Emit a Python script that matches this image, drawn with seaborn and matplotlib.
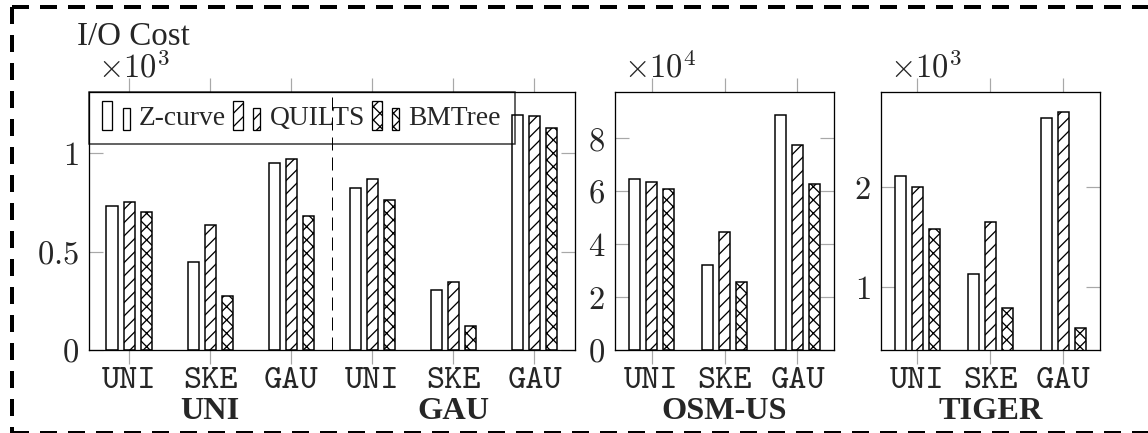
import numpy as np
import pandas as pd
import matplotlib
matplotlib.use("Agg")
import matplotlib.pyplot as plt
import seaborn as sns
import matplotlib.transforms as mtransforms
from matplotlib.legend_handler import HandlerBase
from matplotlib.patches import Rectangle, Patch
from matplotlib.lines import Line2D
from matplotlib.ticker import FuncFormatter

# ---------------- data ----------------
methods = ["Z-curve", "QUILTS", "BMTree"]
queries = ["UNI", "SKE", "GAU"]

# synthetic datasets (x10^3)
uni_zcurve = [0.734, 0.448, 0.950]
uni_quilts = [0.750, 0.636, 0.972]
uni_bmtree = [0.699, 0.273, 0.683]
gau_zcurve = [0.823, 0.304, 1.194]
gau_quilts = [0.870, 0.346, 1.191]
gau_bmtree = [0.760, 0.124, 1.128]
# OSM-US (x10^4)
osm_zcurve = [6.47, 3.21, 8.88]
osm_quilts = [6.35, 4.45, 7.76]
osm_bmtree = [6.08, 2.56, 6.26]
# TIGER (x10^3)
tiger_zcurve = [2.11, 1.13, 2.68]
tiger_quilts = [2.00, 1.65, 2.74]
tiger_bmtree = [1.58, 0.80, 0.60]

group_labels = ["UNI", "GAU", "OSM-US", "TIGER"]
exponents = [3, 4, 3]

# ---------------- style ----------------
DPI = 120
def pt(px):
    return px * 72.0 / DPI

sns.set_theme(style="white")
plt.rcParams.update({
    "font.family": ["Liberation Serif", "DejaVu Serif"],
    "mathtext.fontset": "cm",
    "hatch.linewidth": pt(1.3),
    "lines.scale_dashes": False,
    "axes.grid": False,
})

fig = plt.figure(figsize=(1148 / DPI, 433 / DPI), dpi=DPI)
W, H = 1148.0, 433.0
ax_bottom_px, ax_top_px = 350.0, 91.7

def add_axes(left_px, right_px):
    return fig.add_axes([left_px / W, (H - ax_bottom_px) / H,
                         (right_px - left_px) / W, (ax_bottom_px - ax_top_px) / H])

ax1 = add_axes(88.5, 575.0)
ax2 = add_axes(615.0, 834.0)
ax3 = add_axes(880.7, 1099.7)

def frame(keys, z, q, b):
    return pd.DataFrame({
        "cat": keys * 3,
        "method": np.repeat(methods, len(keys)),
        "value": list(z) + list(q) + list(b),
    })

keys1 = [f"UNI/{c}" for c in queries] + [f"GAU/{c}" for c in queries]
df1 = frame(keys1, uni_zcurve + gau_zcurve, uni_quilts + gau_quilts, uni_bmtree + gau_bmtree)
df2 = frame(queries, osm_zcurve, osm_quilts, osm_bmtree)
df3 = frame(queries, tiger_zcurve, tiger_quilts, tiger_bmtree)

hatches = ["", "///", "xxx"]
tick_gray = "#a8a8a8"

panels = [
    (ax1, df1, keys1, queries * 2, 81.0, (0, 1.313), [0, 0.5, 1]),
    (ax2, df2, queries, queries, 73.0, (0, 9.76), [0, 2, 4, 6, 8]),
    (ax3, df3, queries, queries, 73.0, (0.378, 2.945), [1, 2]),
]

for ax, df, order, labels, px_per_unit, ylim, yticks in panels:
    sns.barplot(data=df, x="cat", y="value", hue="method", order=order,
                hue_order=methods, palette=["white"] * 3, edgecolor="black",
                linewidth=pt(1.5), width=51.0 / px_per_unit, gap=0.35,
                errorbar=None, legend=False, ax=ax, zorder=2)
    for cont, h in zip(ax.containers, hatches):
        for bar in cont:
            bar.set_hatch(h)
            bar.set_facecolor("white")
            bar.set_edgecolor("black")
    ax.set_xlim(-0.5, len(order) - 0.5)
    ax.set_ylim(*ylim)
    ax.set_xlabel("")
    ax.set_ylabel("")
    ax.set_xticks(range(len(order)))
    ax.set_xticklabels(labels, fontfamily="cmtt10", fontsize=20.8)
    ax.set_yticks(yticks)
    ax.yaxis.set_major_formatter(FuncFormatter(lambda v, p: f"${v:g}$"))
    ax.tick_params(axis="x", direction="out", length=pt(14), width=pt(1.2),
                   color=tick_gray, top=True, bottom=True, labeltop=False,
                   labelbottom=True, pad=pt(3))
    ax.tick_params(axis="y", direction="in", length=pt(14), width=pt(1.2),
                   color=tick_gray, left=True, right=True, labelright=False,
                   labelsize=19.6, pad=pt(10))
    for s in ax.spines.values():
        s.set_visible(True)
        s.set_color("black")
        s.set_linewidth(pt(1.3))
        s.set_zorder(3)
    ax.set_facecolor("white")

# dashed separator between the two synthetic datasets
ax1.axvline(2.5, color="black", lw=pt(1.0), ls=(0, (pt(13), pt(7))), zorder=6)

# ---------------- legend ----------------
class TwoBars(HandlerBase):
    def create_artists(self, legend, orig_handle, xdescent, ydescent,
                       width, height, fontsize, trans):
        h = orig_handle.get_hatch()
        x0, y0 = -xdescent, -ydescent - 0.25 * height
        r1 = Rectangle((x0, y0), 0.36 * width, 1.5 * height, facecolor="white",
                       edgecolor="black", hatch=h, lw=pt(1.3), transform=trans)
        r2 = Rectangle((x0 + 0.74 * width, y0), 0.26 * width, 1.1 * height,
                       facecolor="white", edgecolor="black", hatch=h,
                       lw=pt(1.3), transform=trans)
        return [r1, r2]

handles = [Patch(facecolor="white", edgecolor="black", hatch=h, label=m)
           for m, h in zip(methods, hatches)]
leg = ax1.legend(handles=handles, handler_map={Patch: TwoBars()},
                 loc="upper left", bbox_to_anchor=(0, 1), ncol=3, frameon=True,
                 fancybox=False, edgecolor="black", facecolor="none",
                 borderaxespad=0, borderpad=0.5, handlelength=1.0,
                 handletextpad=0.34, columnspacing=0.24,
                 prop={"family": "Liberation Serif", "size": 16.5})
leg.get_frame().set_linewidth(pt(1.5))
leg.set_zorder(5)

# ---------------- texts ----------------
fig.text(77 / W, 1 - 45 / H, "I/O Cost", family="Liberation Serif",
         fontsize=19.8, ha="left", va="baseline")
for ax, left_px, e in zip([ax1, ax2, ax3], [88.5, 615.0, 880.7], exponents):
    fig.text((left_px + 9) / W, 1 - 78 / H, rf"$\times10^{{{e}}}$",
             fontsize=19.6, ha="left", va="baseline")

for ax, x, lab in [(ax1, 1, group_labels[0]), (ax1, 4, group_labels[1]),
                   (ax2, 1, group_labels[2]), (ax3, 1, group_labels[3])]:
    tr = mtransforms.blended_transform_factory(ax.transData, fig.transFigure)
    ax.text(x, 1 - 419 / H, lab, transform=tr, ha="center", va="baseline",
            family="Liberation Serif", fontweight="bold", fontsize=19.4,
            clip_on=False)

# ---------------- outer dashed frame ----------------
frame_style = dict(color="black", lw=pt(4), ls=(0, (pt(17), pt(11))),
                   transform=fig.transFigure, clip_on=False, solid_capstyle="butt",
                   dash_capstyle="butt")
xl, yt, yb = 11.5, 6.7, 432.5
fig.add_artist(Line2D([xl / W, 1.02], [1 - yt / H, 1 - yt / H], **frame_style))
fig.add_artist(Line2D([xl / W, xl / W], [1 - yt / H, 1 - yb / H], **frame_style))
fig.add_artist(Line2D([xl / W, 1.02], [1 - yb / H, 1 - yb / H], **frame_style))

fig.savefig("out.png", dpi=DPI)
